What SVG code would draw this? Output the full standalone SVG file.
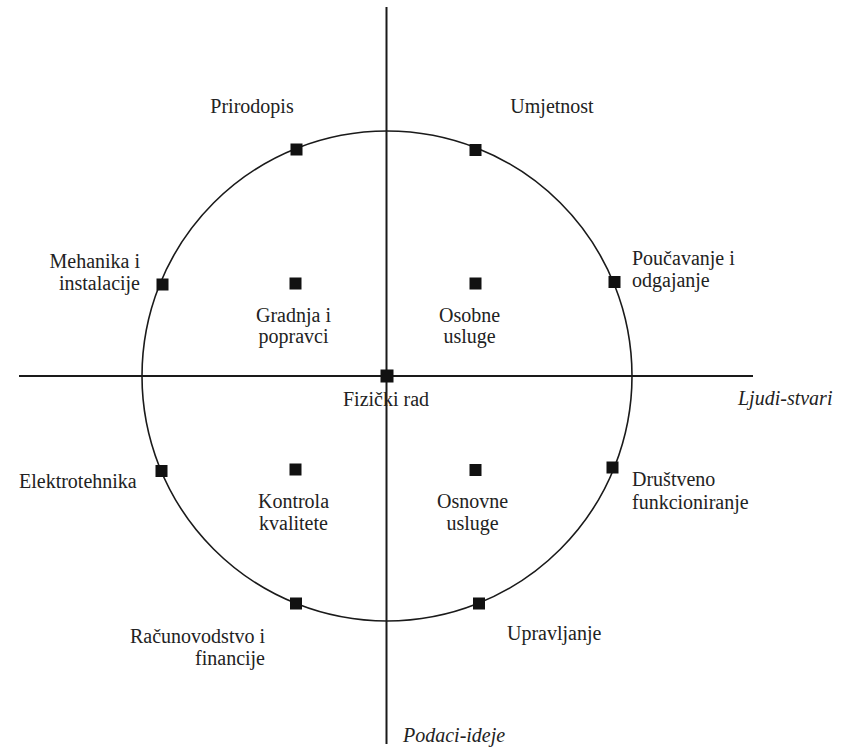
<svg xmlns="http://www.w3.org/2000/svg" width="852" height="748" viewBox="0 0 852 748" font-family="'Liberation Serif', 'DejaVu Serif', serif" font-size="20">
<style>
.ax{stroke:#1a1a1a;stroke-width:2;fill:none}
.c{stroke:#1a1a1a;stroke-width:1.6;fill:none}
.m{fill:#111}
text{font-family:'Liberation Serif','DejaVu Serif',serif;font-size:20px;fill:#222}
.it{font-style:italic}
.mid{text-anchor:middle}
.end{text-anchor:end}
</style>
<rect width="852" height="748" fill="#fff"/>
<g id="connectors">
<line class="ax" x1="19" y1="376" x2="753" y2="376"/>
<line class="ax" x1="386.5" y1="7" x2="386.5" y2="744"/>
<circle class="c" cx="387" cy="376" r="245"/>
</g>
<g id="axis-labels">
<text class="it" x="738" y="405">Ljudi-stvari</text>
<text class="it" x="403" y="741.5">Podaci-ideje</text>
</g>
<g id="n-prirodopis"><rect class="m" x="290.5" y="143.5" width="12" height="12"/><text class="mid" x="252" y="113">Prirodopis</text></g>
<g id="n-umjetnost"><rect class="m" x="469.5" y="144" width="12" height="12"/><text class="mid" x="552" y="112.5">Umjetnost</text></g>
<g id="n-poucavanje"><rect class="m" x="608.5" y="276" width="12" height="12"/><text x="632" y="265">Poučavanje i</text><text x="632" y="287">odgajanje</text></g>
<g id="n-mehanika"><rect class="m" x="156.5" y="278.5" width="12" height="12"/><text class="end" x="140" y="267.5">Mehanika i</text><text class="end" x="140" y="290">instalacije</text></g>
<g id="n-gradnja"><rect class="m" x="289.5" y="277.5" width="12" height="12"/><text class="mid" x="293.5" y="321.5">Gradnja i</text><text class="mid" x="293.5" y="343">popravci</text></g>
<g id="n-osobne"><rect class="m" x="469.5" y="277.5" width="12" height="12"/><text class="mid" x="469.5" y="321.5">Osobne</text><text class="mid" x="469.5" y="343">usluge</text></g>
<g id="n-fizicki"><rect class="m" x="380.5" y="369.5" width="13" height="13"/><text x="343" y="405.5">Fizički rad</text></g>
<g id="n-elektrotehnika"><rect class="m" x="155.5" y="465" width="12" height="12"/><text x="19" y="488">Elektrotehnika</text></g>
<g id="n-kontrola"><rect class="m" x="289.5" y="463.5" width="12" height="12"/><text class="mid" x="293.5" y="508">Kontrola</text><text class="mid" x="293.5" y="530">kvalitete</text></g>
<g id="n-osnovne"><rect class="m" x="469.5" y="464" width="12" height="12"/><text class="mid" x="472.5" y="508">Osnovne</text><text class="mid" x="472.5" y="530">usluge</text></g>
<g id="n-drustveno"><rect class="m" x="606.5" y="461.5" width="12" height="12"/><text x="632" y="486">Društveno</text><text x="632" y="508.5">funkcioniranje</text></g>
<g id="n-racunovodstvo"><rect class="m" x="290" y="597.5" width="12" height="12"/><text class="end" x="265" y="642.5">Računovodstvo i</text><text class="end" x="265" y="665">financije</text></g>
<g id="n-upravljanje"><rect class="m" x="473" y="597.5" width="12" height="12"/><text x="507" y="640">Upravljanje</text></g>
</svg>
